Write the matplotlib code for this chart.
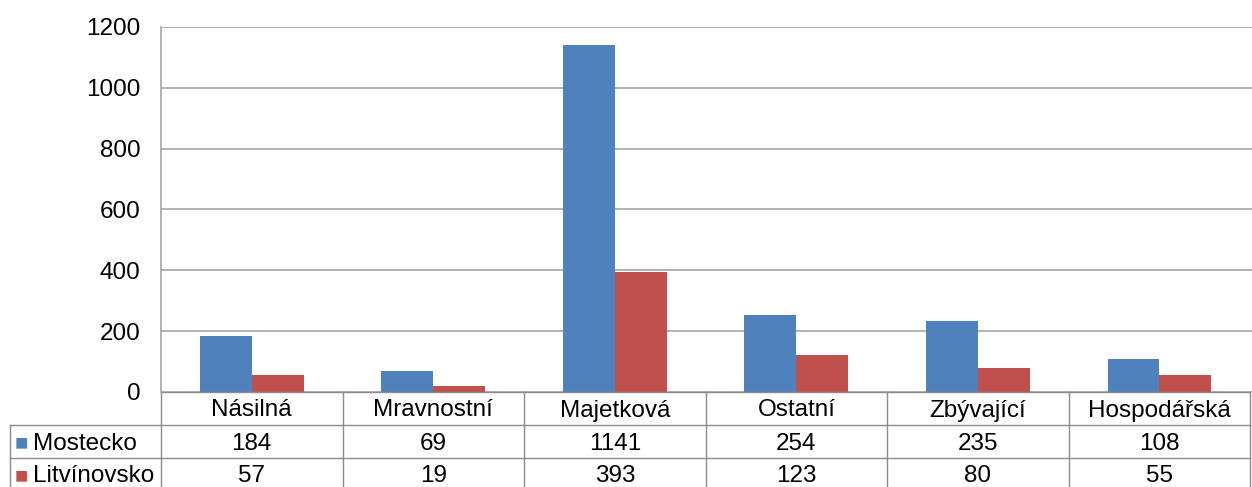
import numpy as np
import matplotlib
matplotlib.use("Agg")
import matplotlib.pyplot as plt
from matplotlib.transforms import blended_transform_factory

plt.rcParams["font.family"] = ["Liberation Sans", "DejaVu Sans"]

# data
CATEGORIES = ["Násilná", "Mravnostní", "Majetková", "Ostatní", "Zbývající", "Hospodářská"]
MOSTECKO = [184, 69, 1141, 254, 235, 108]
LITVINOVSKO = [57, 19, 393, 123, 80, 55]
SERIES = [("Mostecko", MOSTECKO, "#4F81BD"), ("Litvínovsko", LITVINOVSKO, "#C0504D")]
Y_TICKS = [0, 200, 400, 600, 800, 1000, 1200]

GRID_C = "#A6A6A6"
LINE_C = "#8C8C8C"
FS = 17.5
W, H = 1252, 487

fig = plt.figure(figsize=(W / 100, H / 100), dpi=100)
# axes in pixel terms: left 161, right 1252, top 27, bottom 392
ax = fig.add_axes([161 / W, (H - 392) / H, (1252 - 161) / W, (392 - 27) / H])

n = len(CATEGORIES)
idx = np.arange(n)
bw = 0.286
for j, (name, vals, color) in enumerate(SERIES):
    ax.bar(idx + (j - 0.5) * bw, vals, bw, color=color, zorder=2, linewidth=0)

ax.set_xlim(-0.5, n - 0.5 + 0.01)
ax.set_ylim(0, 1200)
ax.set_yticks(Y_TICKS)
ax.set_yticklabels([str(t) for t in Y_TICKS], fontsize=FS)
ax.set_xticks([])
ax.tick_params(axis="y", length=0, pad=15)
ax.yaxis.grid(True, color=GRID_C, linewidth=1.2)
ax.set_axisbelow(True)
for s in ["top", "right", "bottom"]:
    ax.spines[s].set_visible(False)
ax.spines["left"].set_color(GRID_C)
ax.spines["left"].set_linewidth(1.2)

# data table under the plot
tr = blended_transform_factory(ax.transData, ax.transAxes)
row_h = 33 / 365
n_rows = len(SERIES) + 1
bottom = -row_h * n_rows - 0.05
kw = dict(transform=tr, clip_on=False, color=LINE_C, linewidth=1.0)
# horizontal lines
ax.plot([-0.5, n - 0.5], [0, 0], **kw)
x_left = -0.5 - 151 / 181.5
for r in range(1, n_rows + 1):
    ax.plot([x_left, n - 0.5], [-row_h * r, -row_h * r], **kw)
# vertical lines
for k in range(n + 1):
    ax.plot([k - 0.5, k - 0.5], [0, bottom], **kw)
ax.plot([x_left, x_left], [-row_h, bottom], **kw)

nudge = 2 / 365  # text sits a touch low in each cell
for i, cat in enumerate(CATEGORIES):
    ax.text(i, -row_h * 0.5 - nudge, cat, transform=tr, ha="center", va="center", fontsize=FS)
for r, (name, vals, color) in enumerate(SERIES):
    yc = -row_h * (r + 1.5) - nudge
    for i, v in enumerate(vals):
        ax.text(i, yc, str(v), transform=tr, ha="center", va="center", fontsize=FS)
    ax.text(x_left + 0.025, yc, "■", transform=tr, ha="left", va="center",
            fontsize=16, color=color)
    ax.text(x_left + 0.125, yc, name, transform=tr, ha="left", va="center", fontsize=FS)

fig.savefig("out.png", dpi=100)
